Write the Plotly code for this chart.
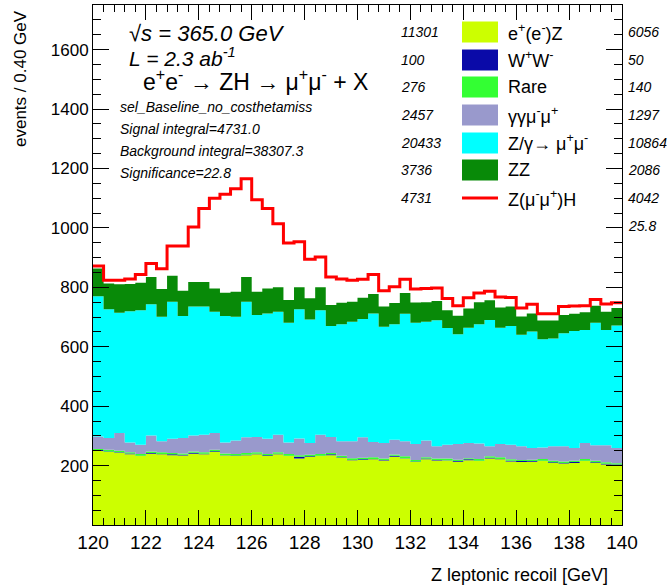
import numpy as np
import plotly.graph_objects as go

# ---------------- data ----------------
x_min, x_max, bin_width = 120.0, 140.0, 0.4
y_max = 1750

ee_z = [249,246,243,238,232,240,238,235,234,240,238,246,234,232,235,238,232,238,232,224,
        229,232,235,226,218,219,221,217,230,224,212,221,217,217,213,218,215,224,221,214,
        212,213,215,209,207,209,215,209,204,201]
ww = [3,1,2,3,1,2,1,3,2,3,2,2,1,2,1,2,3,2,1,6,2,1,3,2,1,2,1,2,3,1,
      2,3,2,1,2,3,1,2,1,2,3,2,1,2,2,3,1,2,2,3]
rare = [4,6,5,4,6,5,6,4,5,4,5,5,6,5,6,5,4,5,6,5,5,6,4,5,6,5,6,5,4,6,
        5,4,5,6,5,4,6,5,6,5,4,5,6,5,5,4,6,5,5,4]
gg_mumu = [42,40,60,33,31,54,37,48,52,54,59,57,37,45,53,51,51,59,39,56,
           40,65,54,49,57,69,51,52,50,51,54,56,41,46,53,51,52,34,45,49,
           46,39,39,49,51,43,54,52,57,51]
z_gamma = [472,433,404,441,453,442,419,461,410,434,431,408,425,417,456,411,422,414,403,435,
           416,419,374,394,402,398,433,391,389,429,408,400,424,393,369,388,402,425,391,400,
           375,392,364,363,380,394,380,413,388,412]
zz = [93,87,96,92,92,92,93,88,85,83,83,78,79,84,84,78,84,82,76,74,
      71,77,70,72,67,72,65,68,71,70,68,66,65,60,62,65,74,66,68,65,
      62,61,63,60,62,58,60,57,62,59]
signal = [9,11,14,17,28,45,68,100,151,185,247,304,331,347,330,310,269,214,192,153,
          131,102,95,80,73,62,66,53,55,46,45,46,44,39,34,36,31,31,35,31,
          28,31,23,23,28,26,22,21,26,18]

bkg_names = ["e<sup>+</sup>(e<sup>-</sup>)Z", "W<sup>+</sup>W<sup>-</sup>", "Rare",
             "γγμ<sup>-</sup>μ<sup>+</sup>", "Z/γ→ μ<sup>+</sup>μ<sup>-</sup>", "ZZ"]
bkg_colors = ["#ccff00", "#0a0aa8", "#33ff33", "#9999cc", "#00ffff", "#088a08"]
sig_name = "Z(μ<sup>-</sup>μ<sup>+</sup>)H"
sig_color = "#ff0000"
left_numbers = ["11301", "100", "276", "2457", "20433", "3736", "4731"]
right_numbers = ["6056", "50", "140", "1297", "10864", "2086", "4042", "25.8"]

info_lines = ["sel_Baseline_no_costhetamiss", "Signal integral=4731.0",
              "Background integral=38307.3", "Significance=22.8"]

x_ticks = [120,122,124,126,128,130,132,134,136,138,140]
y_ticks = [200,400,600,800,1000,1200,1400,1600]

# ---------------- figure ----------------
n_bins = len(ee_z)
edges = x_min + bin_width * np.arange(n_bins + 1)
xs = edges  # step points (left edges + final edge)

def step_y(vals):
    v = np.asarray(vals, dtype=float)
    return np.append(v, v[-1])

fig = go.Figure()
bkg = [ee_z, ww, rare, gg_mumu, z_gamma, zz]
for vals, col in zip(bkg, bkg_colors):
    fig.add_trace(go.Scatter(x=xs, y=step_y(vals), mode="lines", stackgroup="bkg",
                             line=dict(width=0, shape="hv", color=col),
                             fillcolor=col, hoverinfo="skip"))
total = np.sum(np.array(bkg, dtype=float), axis=0) + np.array(signal, dtype=float)
fig.add_trace(go.Scatter(x=xs, y=step_y(total), mode="lines",
                         line=dict(width=3, shape="hv", color=sig_color), hoverinfo="skip"))

FONT = "Liberation Sans, Arial, Helvetica, sans-serif"
L, R, T, B = 93, 45, 5, 62
W, H = 667, 587
pw, ph = W - L - R, H - T - B

def px(xp):
    return (xp - L) / pw

def py(yp):
    return (H - B - yp) / ph

ann = []
def text(xp, yp, s, size, italic=False, xanchor="left", angle=0):
    ann.append(dict(x=px(xp), y=py(yp), xref="paper", yref="paper", text=(f"<i>{s}</i>" if italic else s),
                    showarrow=False, xanchor=xanchor, yanchor="middle", textangle=angle,
                    font=dict(family=FONT, size=size, color="black")))

text(127, 33, "√s = 365.0 GeV", 22, italic=True)
text(127, 57, "L = 2.3 ab<sup>-1</sup>", 21, italic=True)
text(141, 80, "e<sup>+</sup>e<sup>-</sup> → ZH → μ<sup>+</sup>μ<sup>-</sup> + X", 23)
for i, s in enumerate(info_lines):
    text(118, 107 + i * 22, s, 14, italic=True)

row_y = [32, 60, 87, 115, 143, 170, 198, 226]
shapes = []
for i in range(6):
    text(399, row_y[i], left_numbers[i], 14, italic=True)
    shapes.append(dict(type="rect", xref="paper", yref="paper",
                       x0=px(462), x1=px(498), y0=py(row_y[i] + 10.5), y1=py(row_y[i] - 10.5),
                       fillcolor=bkg_colors[i], line=dict(width=0)))
    text(506, row_y[i], bkg_names[i], 18)
text(399, row_y[6], left_numbers[6], 14, italic=True)
shapes.append(dict(type="line", xref="paper", yref="paper", x0=px(462), x1=px(498),
                   y0=py(row_y[6]), y1=py(row_y[6]), line=dict(color=sig_color, width=3)))
text(506, row_y[6], sig_name, 18)
for i, s in enumerate(right_numbers):
    text(626, row_y[i], s, 14, italic=True)

text(610, 575, "Z leptonic recoil [GeV]", 18, xanchor="right")
text(20, 79, "events / 0.40 GeV", 17, angle=-90, xanchor="center")

fig.update_layout(
    width=W, height=H, margin=dict(l=L, r=R, t=T, b=B),
    paper_bgcolor="white", plot_bgcolor="white", showlegend=False,
    font=dict(family=FONT, color="black"),
    annotations=ann, shapes=shapes,
    xaxis=dict(range=[x_min, x_max], tickmode="array", tickvals=x_ticks,
               ticks="inside", ticklen=15, tickwidth=1, tickcolor="black",
               showline=True, linecolor="black", linewidth=1, mirror="allticks",
               showgrid=False, zeroline=False, tickfont=dict(size=19, family=FONT),
               minor=dict(dtick=bin_width, tick0=x_min, ticks="inside", ticklen=7,
                          tickcolor="black", showgrid=False)),
    yaxis=dict(range=[0, y_max], tickmode="array", tickvals=y_ticks,
               ticks="inside", ticklen=16, tickwidth=1, tickcolor="black",
               showline=True, linecolor="black", linewidth=1, mirror="allticks",
               showgrid=False, zeroline=False, tickfont=dict(size=17, family=FONT),
               ticksuffix=" ",
               minor=dict(dtick=50, tick0=0, ticks="inside", ticklen=8,
                          tickcolor="black", showgrid=False)),
)

fig.write_html("out.html", config={"displayModeBar": False},
               post_script="document.body.style.margin='0';")
